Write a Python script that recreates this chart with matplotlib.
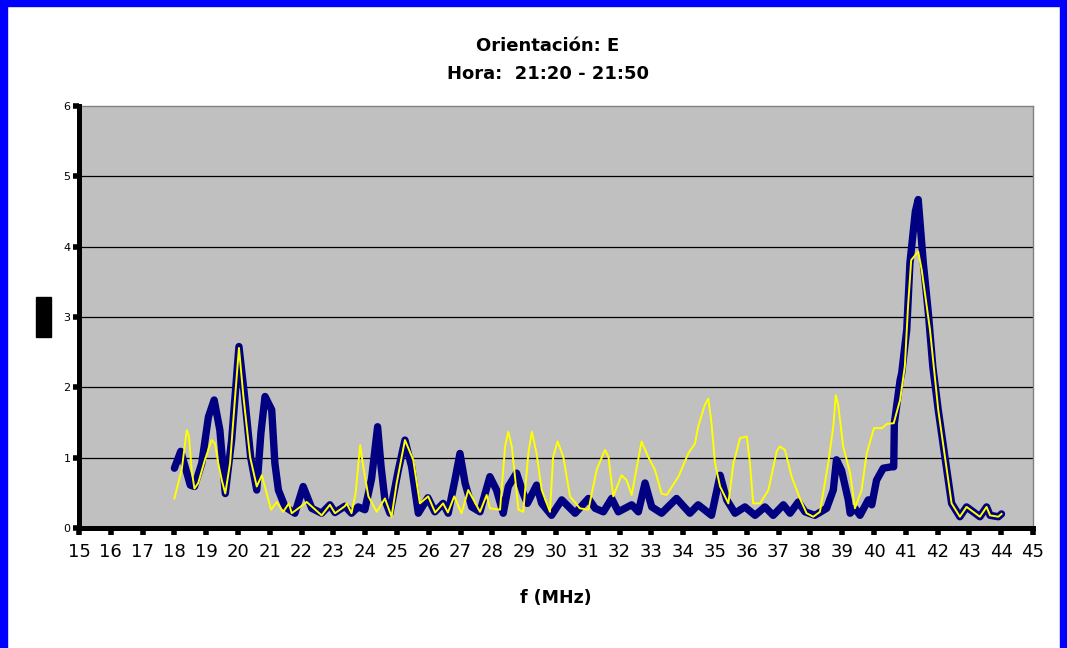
import matplotlib
matplotlib.use("Agg")
import matplotlib.pyplot as plt
from matplotlib.patches import Rectangle

plt.rcParams['font.family'] = ['DejaVu Sans']

# frecuencia (MHz) y nivel - serie azul
f_azul = [18.0, 18.2, 18.5, 18.63, 18.86, 19.07, 19.25, 19.43, 19.6, 19.8,
          20.03, 20.2, 20.4, 20.59, 20.72, 20.85, 21.06, 21.16, 21.27, 21.48,
          21.79, 22.05, 22.32, 22.63, 22.89, 23.05, 23.36, 23.57, 23.78, 23.99,
          24.2, 24.39, 24.5, 24.62, 24.78, 25.04, 25.25, 25.46, 25.67, 25.97,
          26.19, 26.45, 26.61, 26.82, 26.98, 27.14, 27.35, 27.61, 27.92, 28.13,
          28.34, 28.5, 28.76, 28.97, 29.1, 29.39, 29.55, 29.86, 30.18, 30.6,
          31.02, 31.23, 31.49, 31.75, 31.96, 32.38, 32.59, 32.8, 33.01, 33.32,
          33.79, 34.21, 34.47, 34.89, 35.16, 35.37, 35.63, 35.94, 36.26, 36.57,
          36.83, 37.15, 37.36, 37.62, 37.83, 38.14, 38.51, 38.72, 38.82, 38.98,
          39.19, 39.25, 39.4, 39.56, 39.82, 39.93, 40.08, 40.29, 40.55, 40.62,
          40.64, 40.82, 40.87, 41.03, 41.13, 41.3, 41.39, 41.55, 41.71, 41.85,
          42.02, 42.23, 42.44, 42.7, 42.91, 43.33, 43.54, 43.65, 43.91, 44.01]
v_azul = [0.85, 1.09, 0.61, 0.59, 0.92, 1.58, 1.82, 1.39, 0.49, 1.25,
          2.58, 1.9, 1.0, 0.54, 1.35, 1.87, 1.68, 0.92, 0.54, 0.30,
          0.21, 0.59, 0.28, 0.21, 0.33, 0.22, 0.31, 0.21, 0.30, 0.26,
          0.70, 1.44, 0.87, 0.40, 0.21, 0.82, 1.25, 0.87, 0.21, 0.43,
          0.23, 0.35, 0.21, 0.68, 1.06, 0.64, 0.30, 0.23, 0.73, 0.54,
          0.21, 0.59, 0.78, 0.49, 0.35, 0.61, 0.35, 0.18, 0.40, 0.21,
          0.42, 0.28, 0.23, 0.42, 0.23, 0.33, 0.23, 0.64, 0.30, 0.21,
          0.42, 0.21, 0.33, 0.18, 0.75, 0.40, 0.21, 0.30, 0.18, 0.30,
          0.18, 0.33, 0.21, 0.37, 0.23, 0.18, 0.28, 0.54, 0.97, 0.82,
          0.40, 0.21, 0.28, 0.18, 0.40, 0.33, 0.68, 0.85, 0.87, 0.87,
          1.49, 2.1, 2.2, 2.82, 3.77, 4.5, 4.67, 3.77, 3.05, 2.29,
          1.68, 1.01, 0.35, 0.16, 0.30, 0.16, 0.30, 0.18, 0.16, 0.20]

# serie amarilla
f_amarillo = [18.0, 18.23, 18.39, 18.46, 18.54, 18.63, 18.75, 18.96, 19.17, 19.28,
              19.38, 19.49, 19.6, 19.75, 19.91, 20.03, 20.17, 20.38, 20.59, 20.75,
              21.04, 21.22, 21.42, 21.6, 21.69, 21.9, 22.16, 22.63, 22.89, 23.05,
              23.36, 23.42, 23.57, 23.7, 23.84, 23.94, 24.1, 24.36, 24.62, 24.83,
              24.99, 25.25, 25.51, 25.72, 25.98, 26.2, 26.45, 26.6, 26.8, 27.03,
              27.24, 27.61, 27.82, 27.92, 28.24, 28.4, 28.5, 28.61, 28.82, 28.97,
              29.13, 29.24, 29.39, 29.55, 29.81, 29.91, 30.05, 30.23, 30.44, 30.75,
              31.02, 31.28, 31.54, 31.65, 31.8, 32.06, 32.22, 32.38, 32.69, 32.9,
              33.11, 33.32, 33.48, 33.85, 34.16, 34.37, 34.47, 34.68, 34.79, 34.89,
              35.0, 35.16, 35.42, 35.58, 35.79, 36.0, 36.1, 36.2, 36.42, 36.68,
              36.94, 37.04, 37.2, 37.41, 37.67, 37.88, 38.09, 38.3, 38.56, 38.72,
              38.8, 38.88, 39.03, 39.25, 39.4, 39.61, 39.77, 40.0, 40.25, 40.41,
              40.62, 40.82, 40.97, 41.07, 41.17, 41.39, 41.5, 41.76, 42.02, 42.23,
              42.44, 42.7, 42.91, 43.33, 43.54, 43.65, 43.91, 44.01]
v_amarillo = [0.42, 0.83, 1.39, 1.30, 0.83, 0.56, 0.64, 0.97, 1.25, 1.20,
              0.92, 0.68, 0.49, 0.92, 1.87, 2.56, 1.87, 1.01, 0.59, 0.75,
              0.26, 0.37, 0.23, 0.35, 0.21, 0.28, 0.37, 0.18, 0.33, 0.21,
              0.31, 0.35, 0.21, 0.50, 1.18, 0.87, 0.45, 0.23, 0.42, 0.16,
              0.64, 1.25, 0.97, 0.35, 0.45, 0.22, 0.35, 0.22, 0.45, 0.21,
              0.54, 0.23, 0.47, 0.28, 0.26, 1.16, 1.37, 1.16, 0.26, 0.23,
              1.06, 1.37, 1.06, 0.54, 0.23, 1.01, 1.23, 1.01, 0.45, 0.28,
              0.26, 0.83, 1.11, 1.01, 0.45, 0.75, 0.68, 0.47, 1.23, 1.01,
              0.83, 0.49, 0.47, 0.73, 1.06, 1.20, 1.44, 1.75, 1.84, 1.49,
              0.92, 0.59, 0.35, 0.92, 1.28, 1.30, 0.92, 0.35, 0.35, 0.54,
              1.09, 1.16, 1.11, 0.73, 0.42, 0.21, 0.16, 0.23, 0.92, 1.44,
              1.89, 1.73, 1.16, 0.78, 0.28, 0.54, 1.06, 1.42, 1.42, 1.48,
              1.49, 1.82, 2.30, 3.15, 3.81, 3.93, 3.67, 2.82, 1.68, 1.01,
              0.35, 0.16, 0.30, 0.16, 0.30, 0.18, 0.16, 0.20]

xticks = list(range(15, 46))
yticks = [0, 1, 2, 3, 4, 5, 6]

W, H = 1067, 648
fig = plt.figure(figsize=(W / 100, H / 100), dpi=100)
fig.patch.set_facecolor("white")

# area del grafico
ax = fig.add_axes([79 / W, 1 - 528 / H, (1033 - 79) / W, (528 - 106) / H])
ax.set_facecolor("#C0C0C0")
ax.set_xlim(15, 45)
ax.set_ylim(0, 6)

for y in yticks[1:-1]:
    ax.axhline(y, color="black", lw=0.9, zorder=1)

ax.plot(f_azul, v_azul, color="#000080", lw=5.3, solid_joinstyle="round",
        solid_capstyle="round", zorder=3)
ax.plot(f_amarillo, v_amarillo, color="#FFFF00", lw=1.4, solid_joinstyle="round",
        zorder=4)

ax.set_xticks(xticks)
ax.set_yticks(yticks)
ax.tick_params(axis="x", direction="out", length=5, width=4, labelsize=13, pad=6)
ax.tick_params(axis="y", direction="out", length=4, width=4, labelsize=8, pad=2)

for s in ["left", "bottom"]:
    ax.spines[s].set_linewidth(3.6)
    ax.spines[s].set_color("black")
    ax.spines[s].set_zorder(5)
for s in ["top", "right"]:
    ax.spines[s].set_linewidth(1.0)
    ax.spines[s].set_color("#808080")

# titulos
fig.text(548 / W, 1 - 46 / H, "Orientación: E", ha="center", va="center",
         fontsize=13, fontweight="bold")
fig.text(548 / W, 1 - 74 / H, "Hora:  21:20 - 21:50", ha="center", va="center",
         fontsize=13, fontweight="bold")
fig.text(556 / W, 1 - 598 / H, "f (MHz)", ha="center", va="center",
         fontsize=12.5, fontweight="bold")

# etiqueta del eje y (bloque negro)
fig.patches.append(Rectangle((36 / W, 1 - 337 / H), 15 / W, 40 / H,
                             transform=fig.transFigure, color="black"))

# marco azul
for r in [(0, 0, 7 / W, 1), (0, 1 - 6 / H, 1, 6 / H), (1 - 7 / W, 0, 7 / W, 1)]:
    fig.patches.append(Rectangle((r[0], r[1]), r[2], r[3],
                                 transform=fig.transFigure, color="#0000FF"))

fig.savefig("out.png", dpi=100)
